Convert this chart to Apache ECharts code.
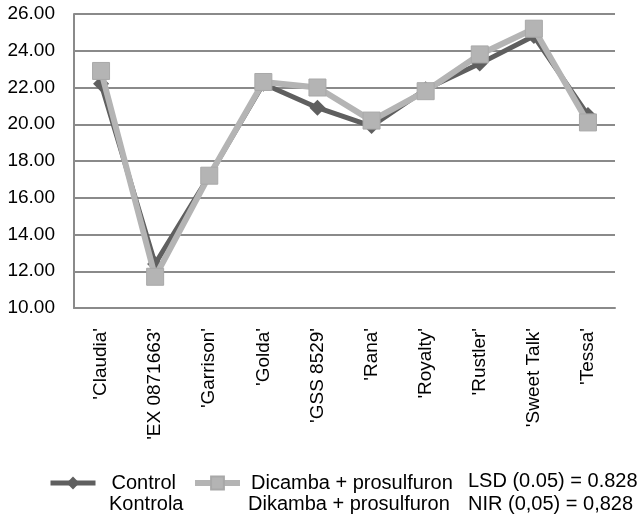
<!DOCTYPE html>
<html>
<head>
<meta charset="utf-8">
<script src="https://cdn.jsdelivr.net/npm/echarts@6/dist/echarts.min.js"></script>
<style>html,body{margin:0;padding:0;background:#fff}#c{width:642px;height:519px}</style>
</head>
<body>
<div id="c"></div>
<script>
var categories = ["'Claudia'", "'EX 0871663'", "'Garrison'", "'Golda'", "'GSS 8529'", "'Rana'", "'Royalty'", "'Rustler'", "'Sweet Talk'", "'Tessa'"];
var control = [22.2, 12.4, 17.2, 22.2, 20.9, 19.9, 21.9, 23.3, 24.8, 20.5];
var dicamba = [22.9, 11.7, 17.2, 22.3, 22.0, 20.2, 21.8, 23.8, 25.2, 20.1];
var yTicks = { min: 10, max: 26, interval: 2 };
var names = { control: 'Control', dicamba: 'Dicamba + prosulfuron' };
var secondLines = { control: 'Kontrola', dicamba: 'Dikamba + prosulfuron', lsd: 'LSD (0.05) = 0.828', nir: 'NIR (0,05) = 0,828' };

var font = 'Liberation Sans, Arial, sans-serif';
var chart = echarts.init(document.getElementById('c'));
chart.setOption({
  animation: false,
  backgroundColor: '#fff',
  grid: { left: 74, right: 27, top: 14, bottom: 211, containLabel: false },
  xAxis: {
    type: 'category',
    data: categories,
    boundaryGap: true,
    axisLine: { show: true, lineStyle: { color: '#8a8a8a', width: 2 } },
    axisTick: { show: false },
    axisLabel: { rotate: 90, margin: 20, color: '#000', fontSize: 19, fontFamily: font, interval: 0 }
  },
  yAxis: {
    type: 'value',
    min: yTicks.min, max: yTicks.max, interval: yTicks.interval,
    axisLine: { show: true, lineStyle: { color: '#8a8a8a', width: 2 } },
    axisTick: { show: false },
    splitLine: { show: true, lineStyle: { color: '#8a8a8a', width: 2 } },
    axisLabel: { margin: 19, color: '#000', fontSize: 19, fontFamily: font, formatter: function (v) { return v.toFixed(2); } }
  },
  legend: [
    { data: [names.control], left: 48, top: 473, padding: 0, itemWidth: 45, itemHeight: 16,
      lineStyle: { width: 5 },
      textStyle: { color: '#000', fontSize: 20, fontFamily: font, padding: [0, 0, 0, 11] } },
    { data: [names.dicamba], left: 192, top: 473, padding: 0, itemWidth: 45, itemHeight: 16,
      lineStyle: { width: 6 },
      textStyle: { color: '#000', fontSize: 20, fontFamily: font, padding: [0, 0, 0, 6] } }
  ],
  graphic: [
    { type: 'text', left: 109, top: 494, style: { text: secondLines.control, fill: '#000', fontSize: 20, fontFamily: font } },
    { type: 'text', left: 248, top: 494, style: { text: secondLines.dicamba, fill: '#000', fontSize: 20, fontFamily: font } },
    { type: 'text', left: 468, top: 471, style: { text: secondLines.lsd, fill: '#000', fontSize: 20, fontFamily: font } },
    { type: 'text', left: 468, top: 494, style: { text: secondLines.nir, fill: '#000', fontSize: 20, fontFamily: font } }
  ],
  series: [
    {
      name: names.control, type: 'line', data: control,
      symbol: 'diamond', symbolSize: 16,
      lineStyle: { color: '#5f5f5f', width: 5 },
      itemStyle: { color: '#5f5f5f' },
      z: 2
    },
    {
      name: names.dicamba, type: 'line', data: dicamba,
      symbol: 'rect', symbolSize: 17,
      lineStyle: { color: '#b4b4b4', width: 6 },
      itemStyle: { color: '#b4b4b4', borderColor: '#a8a8a8', borderWidth: 1 },
      z: 3
    }
  ]
});
</script>
</body>
</html>
